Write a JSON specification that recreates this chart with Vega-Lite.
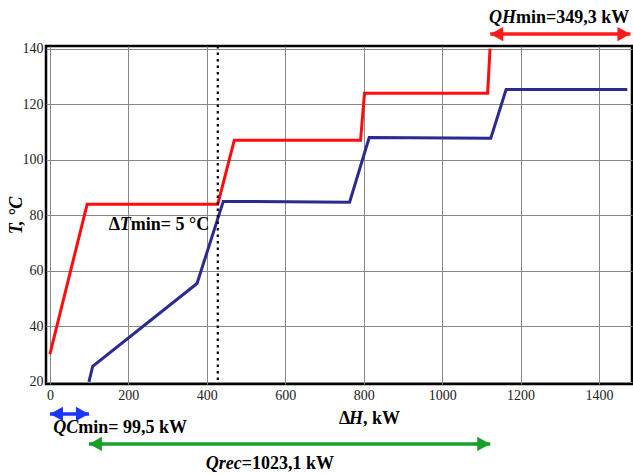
{
  "$schema": "https://vega.github.io/schema/vega-lite/v6.json",
  "width": 586,
  "height": 338,
  "autosize": {"type": "none"},
  "padding": {"left": 46, "top": 46, "right": 1, "bottom": 90},
  "background": "white",
  "config": {
    "view": {"stroke": "#000", "strokeWidth": 2.5},
    "font": "Liberation Serif"
  },
  "resolve": {"scale": {"color": "independent", "shape": "independent"}},
  "datasets": {
    "curves": [
      {"stream": "hot", "i": 0, "dH": 0, "T": 30},
      {"stream": "hot", "i": 1, "dH": 95, "T": 84},
      {"stream": "hot", "i": 2, "dH": 428, "T": 84},
      {"stream": "hot", "i": 3, "dH": 470, "T": 107},
      {"stream": "hot", "i": 4, "dH": 792, "T": 107},
      {"stream": "hot", "i": 5, "dH": 802, "T": 124},
      {"stream": "hot", "i": 6, "dH": 1116, "T": 124},
      {"stream": "hot", "i": 7, "dH": 1122, "T": 140},
      {"stream": "cold", "i": 0, "dH": 99.5, "T": 20},
      {"stream": "cold", "i": 1, "dH": 109, "T": 25.6},
      {"stream": "cold", "i": 2, "dH": 375, "T": 55.4},
      {"stream": "cold", "i": 3, "dH": 442, "T": 85},
      {"stream": "cold", "i": 4, "dH": 764, "T": 84.7},
      {"stream": "cold", "i": 5, "dH": 814, "T": 108},
      {"stream": "cold", "i": 6, "dH": 1124, "T": 107.8},
      {"stream": "cold", "i": 7, "dH": 1163, "T": 125.3},
      {"stream": "cold", "i": 8, "dH": 1472, "T": 125.3}
    ],
    "pinch": [{"dH": 428}],
    "arrows": [
      {"arrow": "QH", "x1": 1122.6, "x2": 1480, "T": 145.3},
      {"arrow": "QC", "x1": 0, "x2": 99.5, "T": 8.4},
      {"arrow": "Qrec", "x1": 99.5, "x2": 1122.6, "T": -2.4}
    ],
    "labels": [
      {"it": "QH", "tx": "min=349,3 kW", "dH": 1188, "T": 149.4},
      {"it": "QC", "tx": "min= 99,5 kW", "dH": 72, "T": 1.6},
      {"it": "Qrec", "tx": "=1023,1 kW", "dH": 489, "T": -11.4},
      {"it": "T", "tx": "min= 5 °C", "dH": 206, "T": 74.7},
      {"it": "H", "tx": ", kW", "dH": 798, "T": 4.8}
    ],
    "prefix": [
      {"t": "Δ", "dH": 179, "T": 74.7},
      {"t": "Δ", "dH": 766, "T": 4.8}
    ]
  },
  "layer": [
    {
      "data": {"name": "curves"},
      "mark": {"type": "line", "strokeWidth": 3, "clip": true},
      "encoding": {
        "x": {
          "field": "dH", "type": "quantitative",
          "scale": {"domain": [-10, 1484], "nice": false, "zero": false},
          "axis": {
            "values": [0, 200, 400, 600, 800, 1000, 1200, 1400],
            "format": "d",
            "title": null, "grid": true, "gridColor": "#888", "gridWidth": 1,
            "ticks": false, "domain": false,
            "labelFont": "Liberation Serif", "labelFontSize": 14, "labelColor": "#222",
            "labelPadding": 4
          }
        },
        "y": {
          "field": "T", "type": "quantitative",
          "scale": {"domain": [19.2, 141], "nice": false, "zero": false},
          "axis": {
            "values": [20, 40, 60, 80, 100, 120, 140],
            "format": "d",
            "title": "T, °C", "titleFont": "Liberation Serif", "titleFontSize": 18,
            "titleFontWeight": "bold", "titleFontStyle": "italic", "titleColor": "#000",
            "titlePadding": -3,
            "grid": true, "gridColor": "#888", "gridWidth": 1,
            "ticks": false, "domain": false,
            "labelFont": "Liberation Serif", "labelFontSize": 14, "labelColor": "#222",
            "labelPadding": 3
          }
        },
        "color": {
          "field": "stream", "type": "nominal",
          "scale": {"domain": ["hot", "cold"], "range": ["#ff0d0d", "#2a2a90"]},
          "legend": null
        },
        "order": {"field": "i", "type": "quantitative"}
      }
    },
    {
      "data": {"name": "pinch"},
      "mark": {"type": "rule", "color": "#000", "strokeWidth": 2.2, "strokeDash": [2.5, 4]},
      "encoding": {"x": {"field": "dH", "type": "quantitative"}}
    },
    {
      "data": {"name": "arrows"},
      "layer": [
        {
          "mark": {"type": "rule", "strokeWidth": 3.5, "strokeCap": "butt"},
          "encoding": {
            "x": {"field": "x1", "type": "quantitative"},
            "x2": {"field": "x2"},
            "y": {"field": "T", "type": "quantitative"},
            "color": {
              "field": "arrow", "type": "nominal",
              "scale": {"domain": ["QH", "QC", "Qrec"], "range": ["#ff1a1a", "#1a35ff", "#16a02a"]},
              "legend": null
            }
          }
        },
        {
          "transform": [{"fold": ["x1", "x2"], "as": ["end", "pos"]}],
          "mark": {"type": "point", "filled": true, "opacity": 1, "size": 169, "strokeWidth": 0},
          "encoding": {
            "x": {"field": "pos", "type": "quantitative"},
            "y": {"field": "T", "type": "quantitative"},
            "shape": {
              "field": "end", "type": "nominal",
              "scale": {"domain": ["x1", "x2"], "range": ["M0,0L2,-1.1L2,1.1Z", "M0,0L-2,-1.1L-2,1.1Z"]},
              "legend": null
            },
            "color": {
              "field": "arrow", "type": "nominal",
              "scale": {"domain": ["QH", "QC", "Qrec"], "range": ["#ff1a1a", "#1a35ff", "#16a02a"]},
              "legend": null
            }
          }
        }
      ]
    },
    {
      "data": {"name": "labels"},
      "mark": {"type": "text", "align": "right", "baseline": "alphabetic", "font": "Liberation Serif", "fontSize": 18, "fontWeight": "bold", "fontStyle": "italic", "color": "#000"},
      "encoding": {
        "x": {"field": "dH", "type": "quantitative"},
        "y": {"field": "T", "type": "quantitative"},
        "text": {"field": "it"}
      }
    },
    {
      "data": {"name": "labels"},
      "mark": {"type": "text", "align": "left", "baseline": "alphabetic", "font": "Liberation Serif", "fontSize": 18, "fontWeight": "bold", "color": "#000"},
      "encoding": {
        "x": {"field": "dH", "type": "quantitative"},
        "y": {"field": "T", "type": "quantitative"},
        "text": {"field": "tx"}
      }
    },
    {
      "data": {"name": "prefix"},
      "mark": {"type": "text", "align": "right", "baseline": "alphabetic", "font": "Liberation Serif", "fontSize": 18, "fontWeight": "bold", "color": "#000"},
      "encoding": {
        "x": {"field": "dH", "type": "quantitative"},
        "y": {"field": "T", "type": "quantitative"},
        "text": {"field": "t"}
      }
    }
  ]
}
